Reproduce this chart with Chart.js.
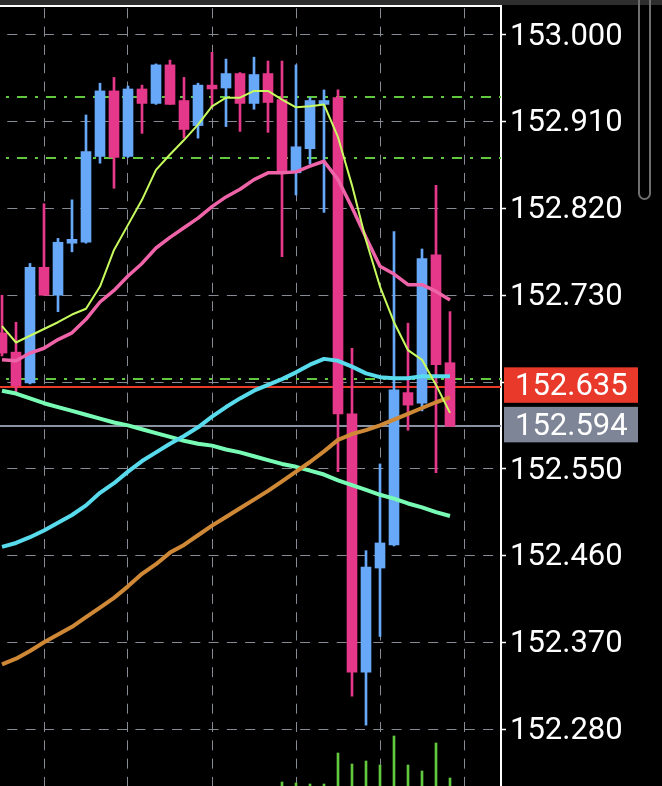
<!DOCTYPE html>
<html><head><meta charset="utf-8">
<script src="https://cdn.jsdelivr.net/npm/chart.js@4.4.1/dist/chart.umd.min.js"></script>
<style>html,body{margin:0;padding:0;background:#000;overflow:hidden}canvas{display:block}</style>
</head><body>
<canvas id="c" width="662" height="786"></canvas>
<script>
// ---- data ----
const candleIndex = Array.from({length: 33}, (_, i) => i);
const openP  = [152.691,152.671,152.639,152.759,152.730,152.784,152.785,152.874,152.942,152.874,152.944,152.929,152.969,152.932,152.906,152.948,152.945,152.960,152.929,152.960,152.933,152.857,152.882,152.928,152.935,152.607,152.339,152.447,152.471,152.629,152.618,152.772,152.660];
const highP  = [152.730,152.702,152.763,152.825,152.789,152.829,152.917,152.950,152.956,152.947,152.948,152.970,152.974,152.956,152.950,152.982,152.975,152.961,152.977,152.973,152.973,152.969,152.935,152.943,152.943,152.675,152.465,152.555,152.796,152.701,152.778,152.844,152.713];
const lowP   = [152.667,152.629,152.638,152.730,152.713,152.775,152.784,152.867,152.841,152.873,152.898,152.928,152.928,152.893,152.893,152.925,152.905,152.900,152.923,152.899,152.770,152.834,152.866,152.816,152.547,152.314,152.284,152.376,152.470,152.590,152.610,152.546,152.594];
const closeP = [152.670,152.636,152.759,152.730,152.785,152.788,152.879,152.942,152.873,152.944,152.929,152.969,152.928,152.902,152.948,152.944,152.960,152.929,152.959,152.930,152.858,152.884,152.932,152.932,152.607,152.339,152.448,152.473,152.632,152.616,152.768,152.658,152.594];
const maLime   = [152.698,152.681,152.688,152.695,152.702,152.710,152.716,152.739,152.777,152.803,152.829,152.860,152.876,152.891,152.907,152.926,152.935,152.935,152.942,152.942,152.933,152.925,152.926,152.928,152.894,152.844,152.787,152.739,152.702,152.673,152.663,152.637,152.608];
const maPink   = [152.663,152.662,152.670,152.675,152.684,152.691,152.705,152.723,152.735,152.750,152.763,152.779,152.790,152.800,152.810,152.822,152.832,152.840,152.850,152.857,152.857,152.858,152.864,152.869,152.850,152.821,152.790,152.760,152.752,152.741,152.741,152.734,152.725];
const maCyan   = [152.469,152.473,152.479,152.486,152.494,152.502,152.512,152.525,152.535,152.547,152.558,152.567,152.576,152.584,152.593,152.604,152.614,152.623,152.631,152.637,152.643,152.650,152.658,152.664,152.662,152.656,152.649,152.645,152.644,152.644,152.646,152.646,152.646];
const maMint   = [152.631,152.628,152.623,152.618,152.614,152.610,152.606,152.602,152.598,152.595,152.591,152.587,152.583,152.579,152.576,152.574,152.570,152.567,152.563,152.559,152.555,152.552,152.548,152.544,152.538,152.533,152.528,152.523,152.519,152.514,152.510,152.505,152.501];
const maOrange = [152.347,152.353,152.361,152.370,152.378,152.386,152.396,152.406,152.416,152.428,152.441,152.451,152.463,152.471,152.481,152.491,152.500,152.509,152.518,152.527,152.537,152.547,152.557,152.568,152.580,152.586,152.590,152.595,152.601,152.607,152.613,152.619,152.624];
const volume   = [null,null,null,null,null,null,null,null,null,null,null,null,null,null,null,null,null,null,null,null,40,30,20,20,330,220,250,210,500,210,150,430,80];
const priceTicks = [152.28,152.37,152.46,152.55,152.64,152.73,152.82,152.91,153.00];
const timeGrid   = [3,9,15,21,27,33];
const levelLines = [152.936,152.872,152.643];
const askPrice = 152.635;
const bidPrice = 152.594;

// ---- styling / geometry ----
const UP = '#67a8f9', DOWN = '#e6388b';
const PX_PER_UNIT = 963.9;
const yMax = 153.0 + 29 / PX_PER_UNIT;   // chart top at 6px
const yMin = 152.28 - 57 / PX_PER_UNIT;  // chart bottom at 786px
const xMin = -2 / 14, xMax = xMin + 501 / 14;

const pts = arr => candleIndex.map(i => ({x: i, y: arr[i]}));
const isUp = i => closeP[i] >= openP[i];

const chrome = {
  id: 'chrome',
  beforeDraw(chart) {
    const {ctx, width, height} = chart;
    ctx.save();
    ctx.fillStyle = '#000'; ctx.fillRect(0, 0, width, height);
    ctx.fillStyle = '#2e2e2e'; ctx.fillRect(0, 0, width, 5);
    ctx.restore();
  },
  beforeDatasetsDraw(chart) {
    const {ctx, chartArea: a, scales: {y}} = chart;
    ctx.save();
    ctx.beginPath(); ctx.rect(a.left, a.top, a.right - a.left, a.bottom - a.top); ctx.clip();
    ctx.lineWidth = 2; ctx.strokeStyle = '#62c83e';
    ctx.setLineDash([10, 8, 3, 8]); ctx.lineDashOffset = 12;
    levelLines.forEach(v => {
      const py = Math.round(y.getPixelForValue(v));
      ctx.beginPath(); ctx.moveTo(a.left, py); ctx.lineTo(a.right, py); ctx.stroke();
    });
    ctx.setLineDash([]);
    [[bidPrice, '#8a93a4'], [askPrice, '#ea3a28']].forEach(([v, c]) => {
      const py = Math.round(y.getPixelForValue(v));
      ctx.strokeStyle = c; ctx.lineWidth = 2;
      ctx.beginPath(); ctx.moveTo(a.left, py); ctx.lineTo(a.right, py); ctx.stroke();
    });
    ctx.restore();
  },
  afterDraw(chart) {
    const {ctx, chartArea: a, scales: {y}} = chart;
    ctx.save();
    [[askPrice, '#e8392a'], [bidPrice, '#7d8597']].forEach(([v, c]) => {
      const py = y.getPixelForValue(v);
      ctx.fillStyle = c;
      ctx.fillRect(a.right + 3, py - 19.5, 134, 35.5);
      ctx.fillStyle = '#ffffff';
      ctx.font = '31px Roboto';
      ctx.textBaseline = 'middle'; ctx.textAlign = 'left';
      ctx.fillText(v.toFixed(3), a.right + 14, py + 0.5);
    });
    // scrollbar
    ctx.strokeStyle = '#6e6e6e'; ctx.lineWidth = 2;
    ctx.beginPath();
    ctx.roundRect(639, -20, 11, 219, 5.5);
    ctx.stroke();
    ctx.restore();
  }
};

const lineDs = (arr, color, w, order) => ({
  type: 'line', data: pts(arr), borderColor: color, borderWidth: w,
  pointRadius: 0, tension: 0, order, borderJoinStyle: 'round', borderCapStyle: 'butt'
});

new Chart(document.getElementById('c'), {
  type: 'bar',
  data: {
    datasets: [
      lineDs(maLime,   '#c8fb5e', 2,   1),
      lineDs(maPink,   '#ef63a8', 3.5, 2),
      lineDs(maCyan,   '#58dbec', 4,   3),
      lineDs(maOrange, '#cf8836', 4,   4),
      lineDs(maMint,   '#78fbb4', 4,   5),
      { type: 'bar', data: candleIndex.map(i => ({x: i, y: [openP[i], closeP[i]]})),
        grouped: false, barThickness: 10, order: 10,
        backgroundColor: c => isUp(c.dataIndex) ? UP : DOWN },
      { type: 'bar', data: candleIndex.map(i => ({x: i, y: [lowP[i], highP[i]]})),
        grouped: false, barThickness: 2, order: 11,
        backgroundColor: c => isUp(c.dataIndex) ? UP : DOWN },
      { type: 'bar', data: candleIndex.map(i => ({x: i, y: volume[i]})), yAxisID: 'yv',
        grouped: false, barThickness: 2, order: 12, backgroundColor: '#62c83e' }
    ]
  },
  options: {
    responsive: false, animation: false, events: [],
    layout: {padding: {top: 6, left: 0, right: 0, bottom: 0}},
    plugins: {legend: {display: false}, tooltip: {enabled: false}},
    scales: {
      x: {
        type: 'linear', position: 'top', min: xMin, max: xMax, offset: false,
        afterBuildTicks: s => { s.ticks = timeGrid.map(v => ({value: v})); },
        afterFit: s => { s.height = 0; s.paddingLeft = 0; s.paddingRight = 0; },
        ticks: {display: false},
        grid: {color: '#878b96', lineWidth: 1, drawTicks: false, offset: false},
        border: {display: true, color: '#ffffff', width: 2, dash: [10, 8.3], dashOffset: 17}
      },
      y: {
        type: 'linear', position: 'right', min: yMin, max: yMax,
        afterBuildTicks: s => { s.ticks = priceTicks.map(v => ({value: v})); },
        afterFit: s => { s.width = 161; s.paddingTop = 0; s.paddingBottom = 0; },
        ticks: {color: '#ffffff', font: {family: 'Roboto', size: 31}, padding: 4, labelOffset: 2,
                callback: v => Number(v).toFixed(3)},
        grid: {color: '#878b96', lineWidth: 1, tickColor: '#ffffff', tickLength: 5, tickWidth: 1.5},
        border: {display: true, color: '#ffffff', width: 2, dash: [10, 8.3], dashOffset: 11}
      },
      yv: {type: 'linear', display: false, min: 0, max: 7800}
    }
  },
  plugins: [chrome]
});
</script>
</body></html>
